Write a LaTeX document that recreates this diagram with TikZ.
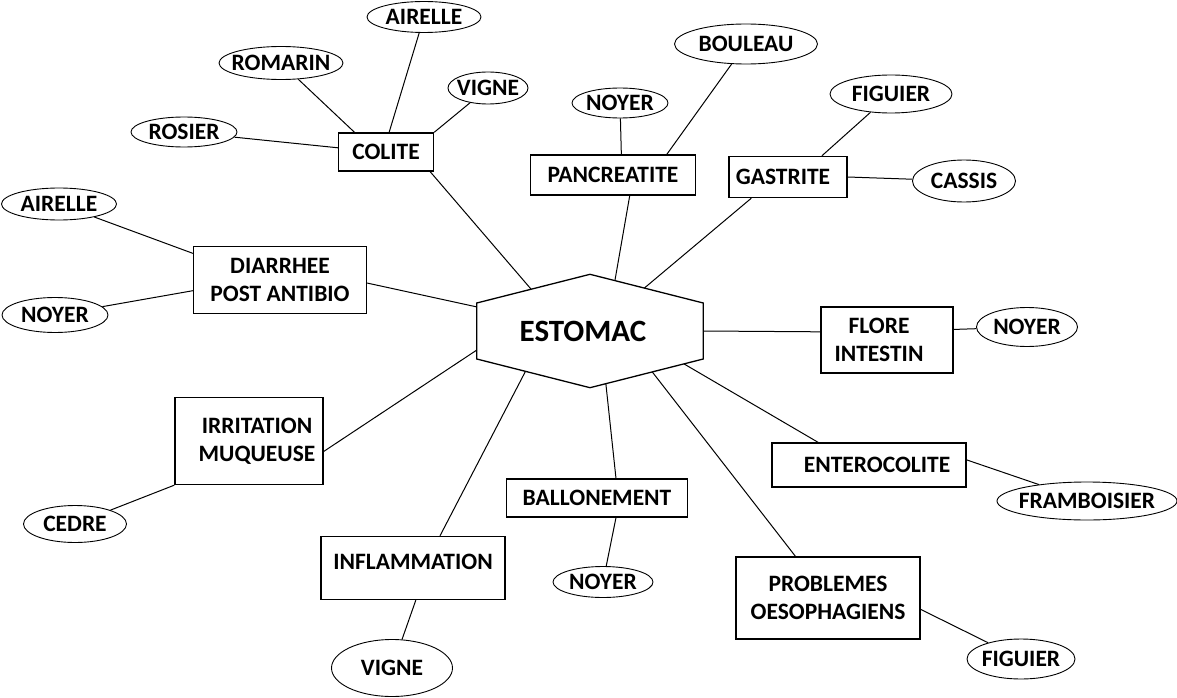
\documentclass[tikz,border=0pt]{standalone}
\usepackage{fontspec}
\setmainfont{Carlito}
\usepackage{tikz}
\usetikzlibrary{shapes.geometric,calc}
\newcommand{\nom}[1]{\makebox[0pt]{#1}}

\begin{document}
\begin{tikzpicture}[x=1pt,y=-1pt,
  every node/.style={font=\fontsize{23.5}{28}\selectfont\bfseries},
  wh/.style 2 args={minimum width=#1,minimum height=#2},
  mal/.style={draw,line width=1.3pt,align=center,inner sep=2pt},
  plante/.style={draw,ellipse,line width=0.9pt,inner sep=0pt},
  lien/.style={line width=1pt}
]
  \useasboundingbox (0,0) rectangle (1177,698);

  % centre
  \node[font=\fontsize{31}{36}\selectfont\bfseries,wh={226}{113},inner sep=0pt] (estomac) at (590,331) {ESTOMAC\hspace*{14pt}};
  \coordinate (hx-n) at (estomac.north);
  \coordinate (hx-ne) at ($(estomac.east)+(0,-28)$);
  \coordinate (hx-se) at ($(estomac.east)+(0,28)$);
  \coordinate (hx-s) at (estomac.south);
  \coordinate (hx-sw) at ($(estomac.west)+(0,28)$);
  \coordinate (hx-nw) at ($(estomac.west)+(0,-28)$);
  \draw[line width=1.3pt] (hx-n) -- (hx-ne) -- (hx-se) -- (hx-s) -- (hx-sw) -- (hx-nw) -- cycle;

  \coordinate (e-colite) at ($(hx-nw)!0.48!(hx-n)$);
  \coordinate (e-pancr) at ($(hx-n)!0.22!(hx-ne)$);
  \coordinate (e-gastr) at ($(hx-n)!0.48!(hx-ne)$);
  \coordinate (e-diarr) at ($(hx-nw)!0.07!(hx-sw)$);
  \coordinate (e-flore) at (estomac.east);
  \coordinate (e-irrit) at ($(hx-nw)!0.84!(hx-sw)$);
  \coordinate (e-inflam) at ($(hx-sw)!0.43!(hx-s)$);
  \coordinate (e-ballon) at ($(hx-s)!0.14!(hx-se)$);
  \coordinate (e-probl) at ($(hx-s)!0.55!(hx-se)$);
  \coordinate (e-entero) at ($(hx-s)!0.83!(hx-se)$);

  % maux
  \node[mal,wh={95}{38}] (colite) at (386,152) {COLITE};
  \node[mal,wh={173}{67}] (diarrhee) at (280,280) {DIARRHEE\\POST ANTIBIO};
  \node[mal,wh={148}{87}] (irritation) at (249,441) {\hspace*{16pt}IRRITATION\\\hspace*{16pt}MUQUEUSE};
  \node[mal,wh={184}{63},text depth=12pt] (inflammation) at (413,568) {INFLAMMATION};
  \node[mal,wh={181}{38}] (ballonement) at (597,498) {BALLONEMENT};
  \node[mal,wh={184}{82}] (problemes) at (828,598) {PROBLEMES\\OESOPHAGIENS};
  \node[mal,wh={194}{44}] (enterocolite) at (869,465) {\hspace*{16pt}ENTEROCOLITE};
  \node[mal,wh={132}{66}] (flore) at (887,340) {FLORE\hspace*{16pt}\\INTESTIN\hspace*{16pt}};
  \node[mal,wh={165}{40}] (pancreatite) at (613,175) {PANCREATITE};
  \node[mal,wh={118}{41}] (gastrite) at (788,177) {GASTRITE\hspace*{10pt}};

  % plantes
  \node[plante,wh={114}{31}] (airelleA) at (424,17) {\nom{AIRELLE}};
  \node[plante,wh={124}{33}] (romarin) at (281,63) {\nom{ROMARIN}};
  \node[plante,wh={80}{32}] (vigneA) at (488,88) {\nom{VIGNE}};
  \node[plante,wh={106}{30}] (rosier) at (184,132) {\nom{ROSIER}};
  \node[plante,wh={115}{32}] (airelleB) at (59,204) {\nom{AIRELLE}};
  \node[plante,wh={106}{35}] (noyerA) at (55,315) {\nom{NOYER}};
  \node[plante,wh={103}{37}] (cedre) at (75,524) {\nom{CEDRE}};
  \node[plante,wh={121}{57}] (vigneB) at (392,668) {\nom{VIGNE}};
  \node[plante,wh={100}{31}] (noyerB) at (603,582) {\nom{NOYER}};
  \node[plante,wh={108}{40}] (figuierA) at (1021,659) {\nom{FIGUIER}};
  \node[plante,wh={180}{38}] (framboisier) at (1087,501) {\nom{FRAMBOISIER}};
  \node[plante,wh={101}{39}] (noyerC) at (1027,327) {\nom{NOYER}};
  \node[plante,wh={96}{30}] (noyerD) at (620,103) {\nom{NOYER}};
  \node[plante,wh={143}{40}] (bouleau) at (746,44) {\nom{BOULEAU}};
  \node[plante,wh={122}{38}] (figuierB) at (891,94) {\nom{FIGUIER}};
  \node[plante,wh={103}{42}] (cassis) at (964,181) {\nom{CASSIS}};

  % liens
  \draw[lien] (airelleA) -- (colite.81); \draw[lien] (romarin) -- (colite.148);
  \draw[lien] (vigneA) -- (colite.north east); \draw[lien] (rosier) -- (colite.175);
  \draw[lien] (colite.-24) -- (e-colite);
  \draw[lien] (airelleB) -- (diarrhee.163); \draw[lien] (noyerA) -- (diarrhee.-173);
  \draw[lien] (diarrhee.-2) -- (e-diarr);
  \draw[lien] (cedre) -- (irritation.south west); \draw[lien] (irritation.-8) -- (e-irrit);
  \draw[lien] (inflammation.50) -- (e-inflam); \draw[lien] (inflammation.-85) -- (vigneB);
  \draw[lien] (ballonement.46) -- (e-ballon); \draw[lien] (ballonement.-46) -- (noyerB);
  \draw[lien] (problemes.128) -- (e-probl); \draw[lien] (problemes.-7) -- (figuierA);
  \draw[lien] (enterocolite.156) -- (e-entero); \draw[lien] (enterocolite.3) -- (framboisier);
  \draw[lien] (flore.173) -- (e-flore); \draw[lien] (flore.9) -- (noyerC);
  \draw[lien] (noyerD) -- (pancreatite.68); \draw[lien] (bouleau) -- (pancreatite.21);
  \draw[lien] (pancreatite.-51) -- (e-pancr);
  \draw[lien] (figuierB) -- (gastrite.32); \draw[lien] (gastrite.east) -- (cassis);
  \draw[lien] (gastrite.-150) -- (e-gastr);
\end{tikzpicture}
\end{document}
